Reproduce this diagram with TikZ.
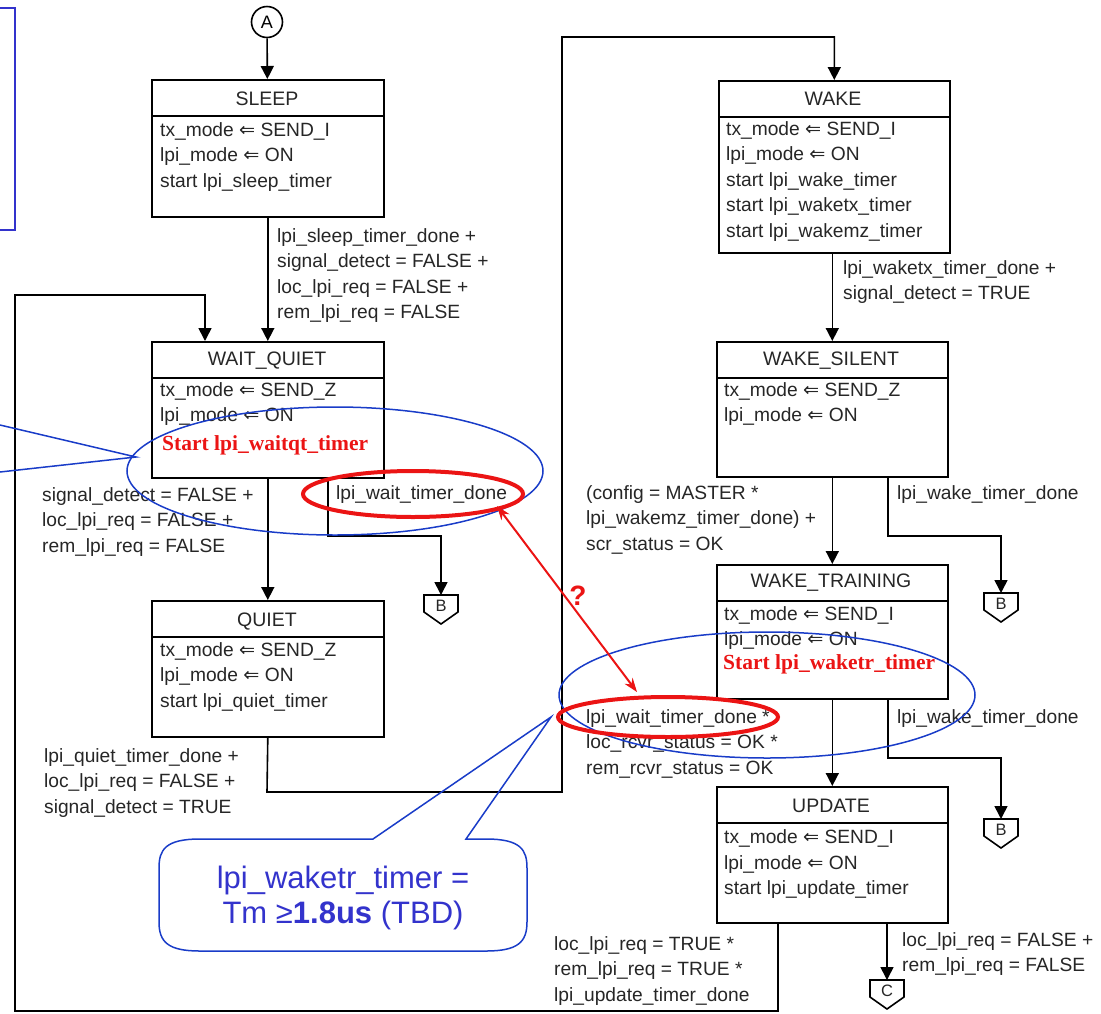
\documentclass[tikz,border=0pt]{standalone}
\usepackage{fontspec}
\setmainfont{Liberation Sans}
\newfontfamily\dejavu{DejaVu Sans}
\newfontfamily\timesf{Liberation Serif}
\usetikzlibrary{arrows.meta,calc}
\definecolor{bluebox}{RGB}{51,51,204}
\definecolor{blueln}{RGB}{25,60,200}
\definecolor{redc}{RGB}{235,20,20}
\newcommand\dla{{\dejavu ⇐}}
\tikzset{
 stbox/.style={draw, line width=1.6pt, anchor=north west, inner sep=0pt, minimum width=232pt},
 ttl/.style={anchor=base, font=\fontsize{19.5}{24}\selectfont, inner sep=0pt, text=black!85},
 lbl/.style={anchor=base west, font=\fontsize{19.2}{24}\selectfont, inner sep=0pt, text=black!85},
 redt/.style={anchor=base west, font=\timesf\bfseries\fontsize{21.5}{24}\selectfont, inner sep=0pt, text=redc},
 conn/.style={line width=1.6pt},
 arr/.style={conn, -{Triangle[length=13pt,width=13pt]}},
 blu/.style={draw=blueln, line width=1.5pt},
 redell/.style={draw=redc, line width=4pt},
}
\newcommand\mylines[4]{\foreach \myitem [count=\myk from 0] in {#4}{\node[lbl] (#1\myk) at ({#2},{#3+25.5*\myk}) {\myitem};}}
\newcommand\offpage[4]{%
  \draw[conn] ({#2-17},{#3}) -- ({#2+17},{#3}) -- ({#2+17},{#3+17}) -- ({#2},{#3+29}) -- ({#2-17},{#3+17}) -- cycle;
  \coordinate (#1) at ({#2},{#3});
  \node[anchor=center, inner sep=0pt, font=\fontsize{16.5}{18}\selectfont, text=black!85] (#1t) at ({#2},{#3+10.5}) {#4};}
\newcommand\hdr[1]{\draw[conn] ([yshift=-37pt]#1.north west) -- ([yshift=-37pt]#1.north east);}
\begin{document}
\begin{tikzpicture}[x=1pt,y=-1pt]
\useasboundingbox (0,0) rectangle (1101,1013);
% state boxes
\node[stbox, minimum height=137pt] (sleep) at (151,79) {};
\hdr{sleep}
\node[ttl] (sleepT) at (267,105) {SLEEP};
\mylines{sleepL}{160}{136}{tx\_mode \dla{} SEND\_I, lpi\_mode \dla{} ON, start lpi\_sleep\_timer}

\node[stbox, minimum height=136pt] (waitq) at (151,341) {};
\hdr{waitq}
\node[ttl] (waitqT) at (267,365) {WAIT\_QUIET};
\mylines{waitqL}{160}{396}{tx\_mode \dla{} SEND\_Z, lpi\_mode \dla{} ON}
\node[redt] (waitqR) at (162,450) {Start lpi\_waitqt\_timer};

\node[stbox, minimum height=136pt] (quiet) at (151,600) {};
\hdr{quiet}
\node[ttl] (quietT) at (267,626) {QUIET};
\mylines{quietL}{160}{656}{tx\_mode \dla{} SEND\_Z, lpi\_mode \dla{} ON, start lpi\_quiet\_timer}

\node[stbox, minimum width=231pt, minimum height=172pt] (wake) at (718,80) {};
\hdr{wake}
\node[ttl] (wakeT) at (833,105) {WAKE};
\mylines{wakeL}{726}{135}{tx\_mode \dla{} SEND\_I, lpi\_mode \dla{} ON, start lpi\_wake\_timer, start lpi\_waketx\_timer, start lpi\_wakemz\_timer}

\node[stbox, minimum width=231pt, minimum height=135pt] (ws) at (716,341) {};
\hdr{ws}
\node[ttl] (wsT) at (831,365) {WAKE\_SILENT};
\mylines{wsL}{724}{396}{tx\_mode \dla{} SEND\_Z, lpi\_mode \dla{} ON}

\node[stbox, minimum width=231pt, minimum height=134pt] (wt) at (716,564) {};
\hdr{wt}
\node[ttl] (wtT) at (831,587) {WAKE\_TRAINING};
\mylines{wtL}{724}{620}{tx\_mode \dla{} SEND\_I, lpi\_mode \dla{} ON}
\node[redt] (wtR) at (723,669) {Start lpi\_waketr\_timer};

\node[stbox, minimum width=231pt, minimum height=136pt] (upd) at (716,786) {};
\hdr{upd}
\node[ttl] (updT) at (831,812) {UPDATE};
\mylines{updL}{724}{843.5}{tx\_mode \dla{} SEND\_I, lpi\_mode \dla{} ON, start lpi\_update\_timer}

% connectors A, B, C
\node[circle, draw, conn, minimum size=31pt, inner sep=0pt, font=\fontsize{18}{20}\selectfont] (A) at (267,22) {A};
\offpage{b1}{441}{595}{B}
\offpage{b2}{1001}{593}{B}
\offpage{b3}{1001}{819}{B}
\offpage{cc}{887}{980}{C}

% transitions
\draw[arr] (A) -- (sleep);
\draw[arr] (sleep) -- (waitq);
\draw[arr] (waitq) -- (quiet);
\draw[arr] (ws.north |- wake.south) -- (ws.north);
\draw[arr] (ws) -- (wt);
\draw[arr] (wt) -- (upd);

\coordinate (q1) at (267,792); \coordinate (q2) at (562,792); \coordinate (q3) at (562,37);
\draw[arr] (quiet.south) -- (q1) -- (q2) -- (q3) -- (q3 -| wake.north) -- (wake.north);

\coordinate (u1) at (778,1011); \coordinate (u2) at (15,1011); \coordinate (u3) at (15,295); \coordinate (u4) at (205,295);
\draw[arr] (upd.south -| u1) -- (u1) -- (u2) -- (u3) -- (u4) -- (u4 |- waitq.north);

\coordinate (w1) at (328,536);
\draw[arr] (waitq.south -| w1) -- (w1) -- (w1 -| b1) -- (b1);
\coordinate (s1) at (888,536);
\draw[arr] (ws.south -| s1) -- (s1) -- (s1 -| b2) -- (b2);
\coordinate (t1) at (888,758);
\draw[arr] (wt.south -| t1) -- (t1) -- (t1 -| b3) -- (b3);
\draw[arr] (upd.south -| cc) -- (cc);

% transition labels
\mylines{lsl}{277}{242}{lpi\_sleep\_timer\_done +, signal\_detect = FALSE +, loc\_lpi\_req = FALSE +, rem\_lpi\_req = FALSE}
\mylines{lwq}{42}{501}{signal\_detect = FALSE +, loc\_lpi\_req = FALSE +, rem\_lpi\_req = FALSE}
\mylines{lwr}{336}{499}{lpi\_wait\_timer\_done}
\mylines{lqu}{44}{762}{lpi\_quiet\_timer\_done +, loc\_lpi\_req = FALSE +, signal\_detect = TRUE}
\mylines{lwk}{843}{274}{lpi\_waketx\_timer\_done +, signal\_detect = TRUE}
\mylines{lws}{586}{499}{{(config = MASTER *}, {lpi\_wakemz\_timer\_done) +}, scr\_status = OK}
\mylines{lwsr}{897}{499}{lpi\_wake\_timer\_done}
\mylines{lwt}{586}{723}{lpi\_wait\_timer\_done *, loc\_rcvr\_status = OK *, rem\_rcvr\_status = OK}
\mylines{lwtr}{897}{723}{lpi\_wake\_timer\_done}
\mylines{lup}{554}{950}{loc\_lpi\_req = TRUE *, rem\_lpi\_req = TRUE *, lpi\_update\_timer\_done}
\mylines{lupr}{902}{946}{loc\_lpi\_req = FALSE +, rem\_lpi\_req = FALSE}

% annotations
\draw[draw=bluebox, line width=1.5pt] (0,8) -- (15,8) -- (15,230) -- (0,230);
\draw[blu] (335,471) ellipse [x radius=208pt, y radius=64pt];
\draw[blu] (767,695) ellipse [x radius=208pt, y radius=63pt];
\coordinate (cl0) at (0,425); \coordinate (cl1) at (136,457); \coordinate (cl2) at (0,472);
\draw[blu] (cl0) -- (cl1) -- (cl2);
\draw[redell] (413,494) ellipse [x radius=110pt, y radius=23pt];
\draw[redell] (668,717) ellipse [x radius=110pt, y radius=20pt];
\coordinate (ra) at (497,506); \coordinate (rb) at (637,692);
\draw[draw=redc, line width=2pt, {Stealth[length=14pt,width=10pt]}-{Stealth[length=14pt,width=10pt]}] (ra) -- (rb);
\node[inner sep=0pt, text=redc, font=\bfseries\fontsize{28}{30}\selectfont] (qm) at (578,596) {?};

% callout bubble
\coordinate (tip) at (551,717);
\draw[blu] (373,839) -- (200,839) .. controls (165,839) and (159,850) .. (159,868) -- (159,922) .. controls (159,942) and (168,951) .. (200,951) -- (486,951) .. controls (518,951) and (527,942) .. (527,922) -- (527,868) .. controls (527,850) and (521,839) .. (486,839) -- (466,839) -- (tip) -- cycle;
\node[anchor=base, inner sep=0pt, text=bluebox, font=\fontsize{31}{35}\selectfont] (bub1) at (343,888) {lpi\_waketr\_timer =};
\node[anchor=base, inner sep=0pt, text=bluebox, font=\fontsize{31}{35}\selectfont] (bub2) at (343,923) {Tm ≥\textbf{1.8us} (TBD)};
\end{tikzpicture}
\end{document}
